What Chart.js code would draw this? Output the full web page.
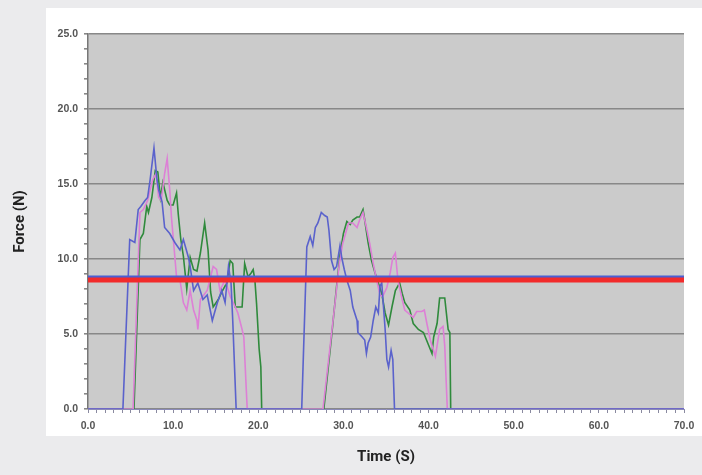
<!DOCTYPE html>
<html>
<head>
<meta charset="utf-8">
<script src="https://cdn.jsdelivr.net/npm/chart.js@4/dist/chart.umd.min.js"></script>
<style>
  html, body { margin: 0; padding: 0; background: #ebebed; }
  #wrap { width: 702px; height: 475px; }
</style>
</head>
<body>
<div id="wrap"><canvas id="chart" width="702" height="475"></canvas></div>
<script>
// values (time in s, force in N)
const blueTime = [0, 4.1, 4.9, 5.5, 5.9, 6.2, 6.7, 7.0, 7.3, 7.75, 8.1, 8.3, 8.7, 9.0, 9.6, 10.2, 10.8, 11.2, 11.8, 12.0, 12.4, 12.9, 13.5, 14.0, 14.6, 15.2, 15.7, 16.1, 16.5, 16.8, 17.0, 17.4,
  25.1, 25.7, 26.1, 26.4, 26.7, 27.0, 27.4, 27.8, 28.1, 28.3, 28.6, 28.9, 29.2, 29.6, 29.8, 30.1, 30.4, 30.8, 31.1, 31.6, 31.7, 32.2, 32.5, 32.7, 32.9, 33.2, 33.5, 33.8, 34.1, 34.3, 34.5, 34.9, 35.1, 35.3, 35.6, 35.8, 36.0, 70];
const blueForce = [0, 0, 11.3, 11.1, 13.3, 13.5, 13.9, 14.1, 15.3, 17.4, 15.3, 14.6, 13.8, 12.1, 11.7, 11.1, 10.6, 11.3, 10.1, 9.5, 7.9, 8.4, 7.3, 7.6, 5.9, 7.1, 7.9, 7.1, 9.5, 8.4, 5.9, 0,
  0, 10.8, 11.5, 10.9, 12.1, 12.4, 13.1, 12.9, 12.8, 11.9, 9.9, 9.3, 9.5, 10.9, 10.1, 9.3, 8.6, 7.9, 6.8, 5.9, 5.1, 4.8, 4.6, 3.7, 4.4, 4.8, 5.9, 6.8, 6.4, 8.2, 8.4, 5.3, 3.3, 2.8, 3.9, 3.3, 0, 0];

const pinkTime = [0, 5.3, 6.1, 6.5, 7.0, 7.6, 8.0, 8.3, 8.6, 9.0, 9.3, 9.6, 9.8, 10.1, 10.4, 10.8, 11.2, 11.6, 12.0, 12.4, 12.8, 12.9, 13.2, 14.0, 14.7, 15.1, 15.5, 16.1, 16.7, 17.3, 17.6, 18.1, 18.3, 18.7,
  27.6, 28.5, 29.0, 29.5, 29.9, 30.3, 30.6, 31.1, 31.6, 31.9, 32.3, 32.7, 33.1, 33.5, 33.9, 34.3, 34.6, 35.1, 35.5, 35.8, 36.1, 36.4, 36.9, 37.2, 37.8, 38.2, 38.6, 39.2, 39.5, 39.8, 40.2, 40.8, 41.3, 41.7, 41.9, 42.2, 70];
const pinkForce = [0, 0, 13.1, 13.3, 13.9, 15.3, 15.7, 14.1, 13.9, 15.7, 16.7, 14.6, 12.8, 10.8, 8.8, 8.6, 7.1, 6.6, 7.9, 6.6, 5.9, 5.3, 7.3, 7.9, 9.5, 9.3, 7.9, 8.6, 7.5, 6.8, 6.4, 5.3, 4.8, 0,
  0, 4.5, 7.0, 9.6, 11.0, 11.8, 12.4, 12.4, 12.1, 12.6, 13.1, 12.1, 11.0, 9.7, 8.6, 7.6, 7.5, 8.1, 9.1, 10.1, 10.4, 8.6, 7.3, 6.6, 6.3, 6.1, 6.5, 6.5, 6.6, 5.7, 4.6, 3.5, 5.3, 5.5, 4.2, 0, 0];

const greenTime = [0, 5.4, 6.1, 6.5, 6.9, 7.1, 7.5, 7.9, 8.2, 8.5, 8.8, 9.3, 9.6, 10.0, 10.4, 10.6, 10.9, 11.2, 11.6, 12.0, 12.4, 12.8, 13.2, 13.7, 14.1, 14.4, 14.7, 15.3, 15.8, 16.3, 16.7, 17.0, 17.3, 17.6, 18.1, 18.4, 18.8, 19.2, 19.4, 19.6, 19.8, 20.1, 20.3, 20.4,
  27.7, 28.6, 29.2, 29.6, 30.0, 30.4, 30.8, 31.1, 31.6, 31.9, 32.3, 32.5, 32.9, 33.3, 33.7, 34.1, 34.5, 34.9, 35.3, 35.7, 36.1, 36.6, 36.9, 37.2, 37.8, 38.2, 38.8, 39.4, 39.9, 40.4, 40.6, 41.0, 41.3, 41.9, 42.3, 42.5, 42.6, 70];
const greenForce = [0, 0, 11.3, 11.7, 13.5, 13.1, 14.1, 15.9, 15.8, 14.1, 15.1, 13.9, 13.6, 13.6, 14.4, 13.0, 11.3, 10.2, 8.0, 10.1, 9.3, 9.2, 10.4, 12.4, 10.6, 7.8, 6.8, 7.3, 7.9, 8.4, 9.9, 9.7, 6.8, 6.8, 6.8, 9.7, 8.8, 9.1, 9.3, 8.6, 7.0, 4.0, 2.8, 0,
  0, 4.8, 8.2, 10.3, 11.7, 12.5, 12.3, 12.6, 12.8, 12.8, 13.3, 12.6, 11.1, 9.9, 9.1, 8.4, 7.7, 6.4, 5.6, 6.8, 7.9, 8.4, 7.7, 7.1, 6.6, 5.7, 5.3, 5.1, 4.4, 3.7, 4.8, 5.7, 7.4, 7.4, 5.3, 5.1, 0, 0];

const blueRef = 8.8;
const redRef = 8.6;
const xTicks = [0, 10, 20, 30, 40, 50, 60, 70];
const yTicks = [0, 5, 10, 15, 20, 25];

const pts = (ts, fs) => ts.map((t, i) => ({ x: t, y: fs[i] }));
const flat = v => [{ x: xTicks[0], y: v }, { x: xTicks[xTicks.length - 1], y: v }];

const backdrop = {
  id: "backdrop",
  beforeDraw(chart) {
    const { ctx, chartArea: a, width, height } = chart;
    ctx.save();
    ctx.fillStyle = "#ebebed";
    ctx.fillRect(0, 0, width, height);
    ctx.fillStyle = "#ffffff";
    ctx.fillRect(a.left - 42, a.top - 26, width - (a.left - 42), a.bottom - a.top + 53);
    ctx.fillStyle = "#cbcbcb";
    ctx.fillRect(a.left, a.top, a.right - a.left, a.bottom - a.top);
    ctx.restore();
  }
};

const line = (data, color, width) => ({
  data, borderColor: color, borderWidth: width, pointRadius: 0, tension: 0, fill: false
});

const tickFont = { family: "Liberation Sans", size: 10.5, weight: "bold" };

new Chart(document.getElementById("chart"), {
  type: "line",
  data: {
    datasets: [
      line(flat(redRef), "#f22b2b", 5),
      line(flat(blueRef), "#4a5fd2", 3),
      line(pts(blueTime, blueForce), "#5a62cc", 1.6),
      line(pts(pinkTime, pinkForce), "#dd80d6", 1.6),
      line(pts(greenTime, greenForce), "#2f8a3c", 1.6)
    ]
  },
  options: {
    responsive: false,
    animation: false,
    layout: { padding: { top: 34, right: 18, left: 0, bottom: 0 } },
    plugins: { legend: { display: false }, tooltip: { enabled: false } },
    scales: {
      x: {
        type: "linear",
        min: 0, max: 70,
        afterFit(s) { s.height = 66; },
        ticks: {
          stepSize: 1,
          autoSkip: false,
          maxRotation: 0,
          padding: 7,
          color: "#555",
          font: tickFont,
          callback: v => xTicks.includes(v) ? v.toFixed(1) : ""
        },
        grid: { drawOnChartArea: false, tickLength: 4, color: "#8a8aa0" },
        border: { color: "#8a8ab8", width: 1 },
        title: {
          display: true, text: "Time (S)", color: "#222",
          font: { family: "Roboto", size: 15, weight: "bold" },
          padding: { top: 0, bottom: 9 }
        }
      },
      y: {
        min: 0, max: 25,
        afterFit(s) { s.width = 88; },
        ticks: {
          stepSize: 1,
          autoSkip: false,
          padding: 6,
          color: "#555",
          font: tickFont,
          callback: v => yTicks.includes(v) ? v.toFixed(1) : ""
        },
        grid: {
          color: c => (c.tick && yTicks.includes(c.tick.value)) ? "#888888" : "rgba(0,0,0,0)",
          lineWidth: 1.6,
          tickLength: 4,
          tickColor: "#888"
        },
        border: { color: "#777", width: 1.5 },
        title: {
          display: true, text: "Force (N)", color: "#222",
          font: { family: "Roboto", size: 15, weight: "bold" },
          padding: { top: 11, bottom: 0 }
        }
      }
    }
  },
  plugins: [backdrop]
});
</script>
</body>
</html>
